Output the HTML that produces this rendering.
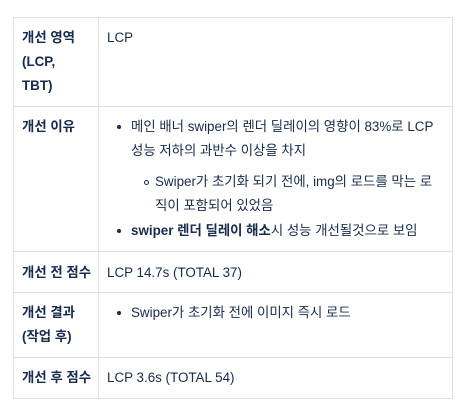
<!DOCTYPE html>
<html><head><meta charset="utf-8"><style>
body{margin:0;width:470px;height:415px;background:#fff;font-family:"Liberation Sans","Noto Sans CJK KR",sans-serif;font-size:13.4px;color:#172b4d;position:relative;overflow:hidden}
.t{position:absolute;line-height:24px;white-space:nowrap}
.b{font-weight:bold}
.h{position:absolute;left:13px;width:440px;height:1px;background:#dcdfe4}
.v{position:absolute;top:17px;height:382px;width:1px;background:#dcdfe4}
.dot{position:absolute;width:4px;height:4px;border-radius:50%;background:#172b4d}
.circ{position:absolute;border-radius:50%;border:1px solid #172b4d;box-sizing:border-box;width:5px;height:5px}
</style></head><body>
<div>
<div class="h" style="top:17px"></div>
<div class="h" style="top:106px"></div>
<div class="h" style="top:251px"></div>
<div class="h" style="top:292px"></div>
<div class="h" style="top:357px"></div>
<div class="h" style="top:398px"></div>
<div class="v" style="left:13px"></div>
<div class="v" style="left:98px"></div>
<div class="v" style="left:452px"></div>

<div class="t b" style="left:22px;top:26px">개선 영역<br>(LCP,<br>TBT)</div>
<div class="t" style="left:107px;top:26px">LCP</div>

<div class="t b" style="left:22px;top:115px">개선 이유</div>
<div class="dot" style="left:117px;top:125px"></div>
<div class="t" style="left:131px;top:115px">메인 배너 swiper의 렌더 딜레이의 영향이 83%로 LCP<br>성능 저하의 과반수 이상을 차지</div>
<div class="circ" style="left:144px;top:180px"></div>
<div class="t" style="left:155px;top:170px">Swiper가 초기화 되기 전에, img의 로드를 막는 로<br>직이 포함되어 있었음</div>
<div class="dot" style="left:117px;top:229px"></div>
<div class="t" style="left:131px;top:219px"><span class="b">swiper 렌더 딜레이 해소</span>시 성능 개선될것으로 보임</div>

<div class="t b" style="left:22px;top:261px">개선 전 점수</div>
<div class="t" style="left:107px;top:261px">LCP 14.7s (TOTAL 37)</div>

<div class="t b" style="left:22px;top:301px">개선 결과<br>(작업 후)</div>
<div class="dot" style="left:117px;top:311px"></div>
<div class="t" style="left:131px;top:301px">Swiper가 초기화 전에 이미지 즉시 로드</div>

<div class="t b" style="left:22px;top:366px">개선 후 점수</div>
<div class="t" style="left:107px;top:366px">LCP 3.6s (TOTAL 54)</div>
</div>
</body></html>
